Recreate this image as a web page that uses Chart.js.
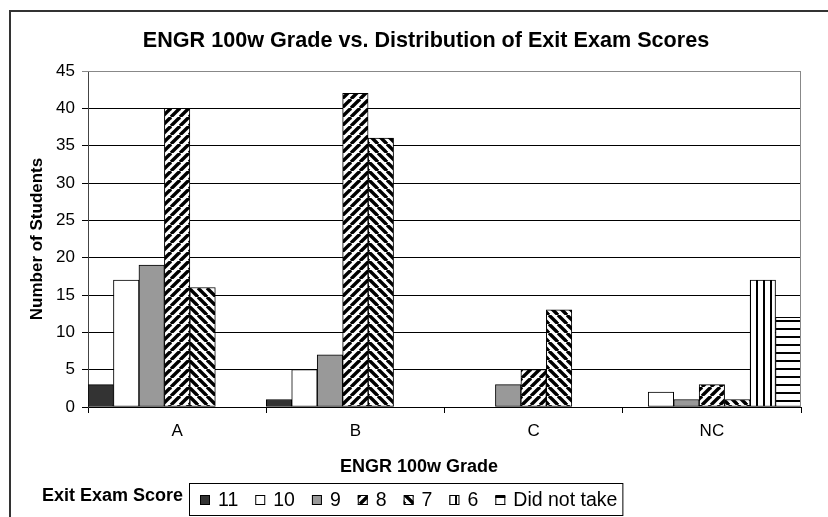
<!DOCTYPE html>
<html>
<head>
<meta charset="utf-8">
<script src="https://cdn.jsdelivr.net/npm/chart.js@4"></script>
<style>
  html, body { margin: 0; padding: 0; background: #fff; }
  canvas { display: block; }
</style>
</head>
<body>
<canvas id="chart" width="828" height="517"></canvas>
<script>
// ENGR 100w grade vs exit exam score counts
const grades = ["A", "B", "C", "NC"];
const scoreNames = ["11", "10", "9", "8", "7", "6", "Did not take"];
const score11 = [3, 1, 0, 0];
const score10 = [17, 5, 0, 2];
const score9 = [19, 7, 3, 1];
const score8 = [40, 42, 5, 3];
const score7 = [16, 36, 13, 1];
const score6 = [0, 0, 0, 17];
const didNotTake = [0, 0, 0, 12];
const yMax = 45;
const yStep = 5;

const FONT = '"Liberation Sans", Arial, sans-serif';
Chart.defaults.font.family = FONT;
Chart.defaults.color = "#000";

const canvas = document.getElementById("chart");
const ctx = canvas.getContext("2d");

function pattern(kind) {
  const s = (kind === "v") ? 7 : (kind === "h") ? 8 : 9;
  const tile = document.createElement("canvas");
  tile.width = s; tile.height = s;
  const g = tile.getContext("2d");
  g.fillStyle = "#fff";
  g.fillRect(0, 0, s, s);
  g.fillStyle = "#000";
  g.strokeStyle = "#000";
  if (kind === "v") {
    g.fillRect(0, 0, 2, s);
  } else if (kind === "h") {
    g.fillRect(0, 0, s, 2);
  } else {
    g.lineWidth = 3.4;
    for (const k of [-s, 0, s]) {
      g.beginPath();
      if (kind === "fwd") { g.moveTo(k, s); g.lineTo(k + s, 0); }
      else { g.moveTo(k, 0); g.lineTo(k + s, s); }
      g.stroke();
    }
  }
  return ctx.createPattern(tile, "repeat");
}

const fills = ["#333333", "#ffffff", "#999999", pattern("fwd"), pattern("back"), pattern("v"), pattern("h")];
const series = [score11, score10, score9, score8, score7, score6, didNotTake];

const decor = {
  id: "decor",
  beforeDraw(chart) {
    const c = chart.ctx;
    c.save();
    c.fillStyle = "#fff";
    c.fillRect(0, 0, chart.width, chart.height);
    c.restore();
  },
  afterDraw(chart) {
    const c = chart.ctx;
    const a = chart.chartArea;
    c.save();
    // plot area border (top/right)
    c.strokeStyle = "#888";
    c.lineWidth = 1;
    c.beginPath();
    c.moveTo(a.left, a.top + 0.5);
    c.lineTo(a.right - 0.5, a.top + 0.5);
    c.lineTo(a.right - 0.5, a.bottom);
    c.stroke();
    // outer frame
    c.strokeStyle = "#333";
    c.lineWidth = 2;
    c.beginPath();
    c.moveTo(10, chart.height + 2);
    c.lineTo(10, 11);
    c.lineTo(chart.width + 2, 11);
    c.stroke();
    // title
    c.fillStyle = "#000";
    c.textAlign = "center";
    c.textBaseline = "middle";
    c.font = "bold 21.6px " + FONT;
    c.fillText("ENGR 100w Grade vs. Distribution of Exit Exam Scores", 426, 41);
    // x axis title
    c.font = "bold 18px " + FONT;
    c.fillText("ENGR 100w Grade", 419, 467);
    // legend
    c.textAlign = "right";
    c.fillText("Exit Exam Score", 183, 496);
    c.font = "19.5px " + FONT;
    c.textAlign = "left";
    let x = 200;
    const items = chart.data.datasets;
    items.forEach((ds, i) => {
      c.fillStyle = fills[i];
      c.fillRect(x, 495, 10, 10);
      c.strokeStyle = "#000";
      c.lineWidth = 1;
      c.strokeRect(x + 0.5, 495.5, 9, 9);
      c.fillStyle = "#000";
      c.fillText(ds.label, x + 18, 501);
      const w = c.measureText(ds.label).width;
      x += 18 + w + (i < items.length - 1 ? 17 : 0);
    });
    c.strokeStyle = "#000";
    c.lineWidth = 1;
    c.strokeRect(189.5, 483.5, x + 5 - 189, 32);
    c.restore();
  }
};

new Chart(canvas, {
  type: "bar",
  data: {
    labels: grades,
    datasets: series.map((vals, i) => ({
      label: scoreNames[i],
      data: vals,
      backgroundColor: c => (c.raw === 0 ? "rgba(0,0,0,0)" : fills[i]),
      borderColor: "#000",
      borderWidth: c => (c.raw === 0 ? 0 : 1),
      borderSkipped: false,
      categoryPercentage: 1,
      barPercentage: 1
    }))
  },
  options: {
    responsive: false,
    animation: false,
    devicePixelRatio: 1,
    layout: { padding: { top: 71, right: 27, bottom: 70, left: 0 } },
    plugins: {
      legend: { display: false },
      title: { display: false },
      tooltip: { enabled: false }
    },
    scales: {
      x: {
        afterFit(scale) { scale.height = 40; },
        grid: { display: true, drawOnChartArea: false, drawTicks: true, tickLength: 6, color: "#000", offset: true },
        border: { color: "#000" },
        ticks: { font: { size: 17 }, padding: 8, color: "#000" }
      },
      y: {
        min: 0,
        max: yMax,
        afterFit(scale) { scale.width = 88; },
        ticks: { stepSize: yStep, font: { size: 17 }, padding: 7, color: "#000" },
        grid: { color: c => (c.tick && c.tick.value === yMax ? "#888" : "#000"), tickLength: 6 },
        border: { color: "#444" },
        title: { display: true, text: "Number of Students", font: { size: 17, weight: "bold" }, padding: { top: 27, bottom: 0 }, color: "#000" }
      }
    }
  },
  plugins: [decor]
});
</script>
</body>
</html>
